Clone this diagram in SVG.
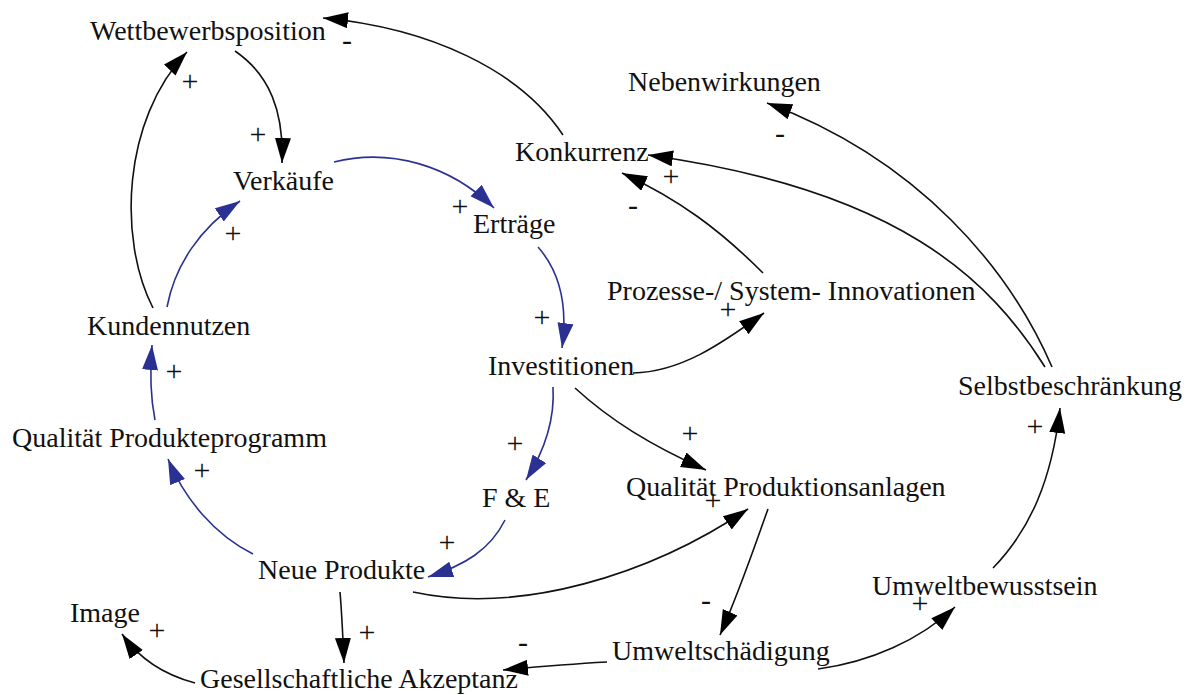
<svg xmlns="http://www.w3.org/2000/svg" width="1194" height="695" viewBox="0 0 1194 695">
  <defs>
    <style>
      .node { font-family: "Liberation Serif", "Times New Roman", serif; font-size: 28px; fill: #111; }
      .sign { font-family: "Liberation Serif", "Times New Roman", serif; font-size: 30px; fill: #111; text-anchor: middle; }
      .link { fill: none; stroke: #111; stroke-width: 1.6; }
      .blue { stroke: #2b3192; }
    </style>
    <marker id="arrow-black" markerUnits="userSpaceOnUse" markerWidth="28" markerHeight="18" refX="25" refY="8" orient="auto">
      <path d="M0,0 L25,8 L0,16 z" fill="#000"/>
    </marker>
    <marker id="arrow-blue" markerUnits="userSpaceOnUse" markerWidth="28" markerHeight="18" refX="25" refY="8" orient="auto">
      <path d="M0,0 L25,8 L0,16 z" fill="#2b3192"/>
    </marker>
  </defs>

  <rect width="1194" height="695" fill="#fff"/>

  <!-- connectors -->
  <g id="connectors">
    <path class="link" d="M563,135 C520,70 430,28 323,18" marker-end="url(#arrow-black)"/>
    <path class="link" d="M235,51 C270,75 284,112 282,163" marker-end="url(#arrow-black)"/>
    <path class="link" d="M153,308 C118,240 122,120 187,52" marker-end="url(#arrow-black)"/>
    <path class="link blue" d="M167,307 C175,265 200,228 240,201" marker-end="url(#arrow-blue)"/>
    <path class="link blue" d="M334,162 C390,148 450,165 494,208" marker-end="url(#arrow-blue)"/>
    <path class="link blue" d="M538,247 C560,272 568,305 562,348" marker-end="url(#arrow-blue)"/>
    <path class="link blue" d="M553,387 C555,420 545,450 526,480" marker-end="url(#arrow-blue)"/>
    <path class="link" d="M575,388 C610,420 650,445 706,470" marker-end="url(#arrow-black)"/>
    <path class="link" d="M633,373 C680,372 720,345 764,313" marker-end="url(#arrow-black)"/>
    <path class="link" d="M763,273 C720,230 680,200 622,173" marker-end="url(#arrow-black)"/>
    <path class="link" d="M1045,367 C990,280 900,190 648,155" marker-end="url(#arrow-black)"/>
    <path class="link" d="M1052,367 C1010,270 920,160 767,103" marker-end="url(#arrow-black)"/>
    <path class="link" d="M993,568 C1030,530 1052,480 1060,408" marker-end="url(#arrow-black)"/>
    <path class="link" d="M818,669 C870,662 920,640 955,607" marker-end="url(#arrow-black)"/>
    <path class="link" d="M768,509 C755,545 740,590 720,635" marker-end="url(#arrow-black)"/>
    <path class="link" d="M607,662 C570,664 535,667 503,670" marker-end="url(#arrow-black)"/>
    <path class="link" d="M413,592 C520,615 650,575 748,509" marker-end="url(#arrow-black)"/>
    <path class="link blue" d="M505,520 C490,550 465,565 428,577" marker-end="url(#arrow-blue)"/>
    <path class="link blue" d="M253,554 C215,535 185,500 168,459" marker-end="url(#arrow-blue)"/>
    <path class="link blue" d="M155,420 C150,395 150,370 152,345" marker-end="url(#arrow-blue)"/>
    <path class="link" d="M340,592 C342,615 343,640 344,663" marker-end="url(#arrow-black)"/>
    <path class="link" d="M195,683 C165,675 140,660 122,634" marker-end="url(#arrow-black)"/>
  </g>

  <!-- link polarities -->
  <g id="polarities">
    <text class="sign" x="347" y="50">-</text>
    <text class="sign" x="190" y="91">+</text>
    <text class="sign" x="258" y="144">+</text>
    <text class="sign" x="233" y="243">+</text>
    <text class="sign" x="460" y="216">+</text>
    <text class="sign" x="671" y="186">+</text>
    <text class="sign" x="633" y="215">-</text>
    <text class="sign" x="780" y="143">-</text>
    <text class="sign" x="174" y="381">+</text>
    <text class="sign" x="202" y="480">+</text>
    <text class="sign" x="542" y="327">+</text>
    <text class="sign" x="728" y="319">+</text>
    <text class="sign" x="515" y="453">+</text>
    <text class="sign" x="690" y="443">+</text>
    <text class="sign" x="1035" y="436">+</text>
    <text class="sign" x="157" y="640">+</text>
    <text class="sign" x="367" y="642">+</text>
    <text class="sign" x="713" y="510">+</text>
    <text class="sign" x="447" y="552">+</text>
    <text class="sign" x="706" y="610">-</text>
    <text class="sign" x="523" y="652">-</text>
    <text class="sign" x="920" y="613">+</text>
  </g>

  <!-- variables -->
  <g id="wettbewerbsposition"><text class="node" x="90" y="40">Wettbewerbsposition</text></g>
  <g id="nebenwirkungen"><text class="node" x="628" y="91">Nebenwirkungen</text></g>
  <g id="konkurrenz"><text class="node" x="515" y="161">Konkurrenz</text></g>
  <g id="verkaeufe"><text class="node" x="233" y="190">Verkäufe</text></g>
  <g id="ertraege"><text class="node" x="473" y="233">Erträge</text></g>
  <g id="innovationen"><text class="node" x="607" y="300">Prozesse-/ System- Innovationen</text></g>
  <g id="kundennutzen"><text class="node" x="87" y="335">Kundennutzen</text></g>
  <g id="investitionen"><text class="node" x="488" y="375">Investitionen</text></g>
  <g id="selbstbeschraenkung"><text class="node" x="958" y="395">Selbstbeschränkung</text></g>
  <g id="qualitaet-produkteprogramm"><text class="node" x="12" y="447">Qualität Produkteprogramm</text></g>
  <g id="fue"><text class="node" x="482" y="507">F &amp; E</text></g>
  <g id="qualitaet-produktionsanlagen"><text class="node" x="626" y="496">Qualität Produktionsanlagen</text></g>
  <g id="neue-produkte"><text class="node" x="258" y="579">Neue Produkte</text></g>
  <g id="umweltbewusstsein"><text class="node" x="872" y="595">Umweltbewusstsein</text></g>
  <g id="image"><text class="node" x="70" y="622">Image</text></g>
  <g id="umweltschaedigung"><text class="node" x="612" y="660">Umweltschädigung</text></g>
  <g id="akzeptanz"><text class="node" x="200" y="688">Gesellschaftliche Akzeptanz</text></g>
</svg>
